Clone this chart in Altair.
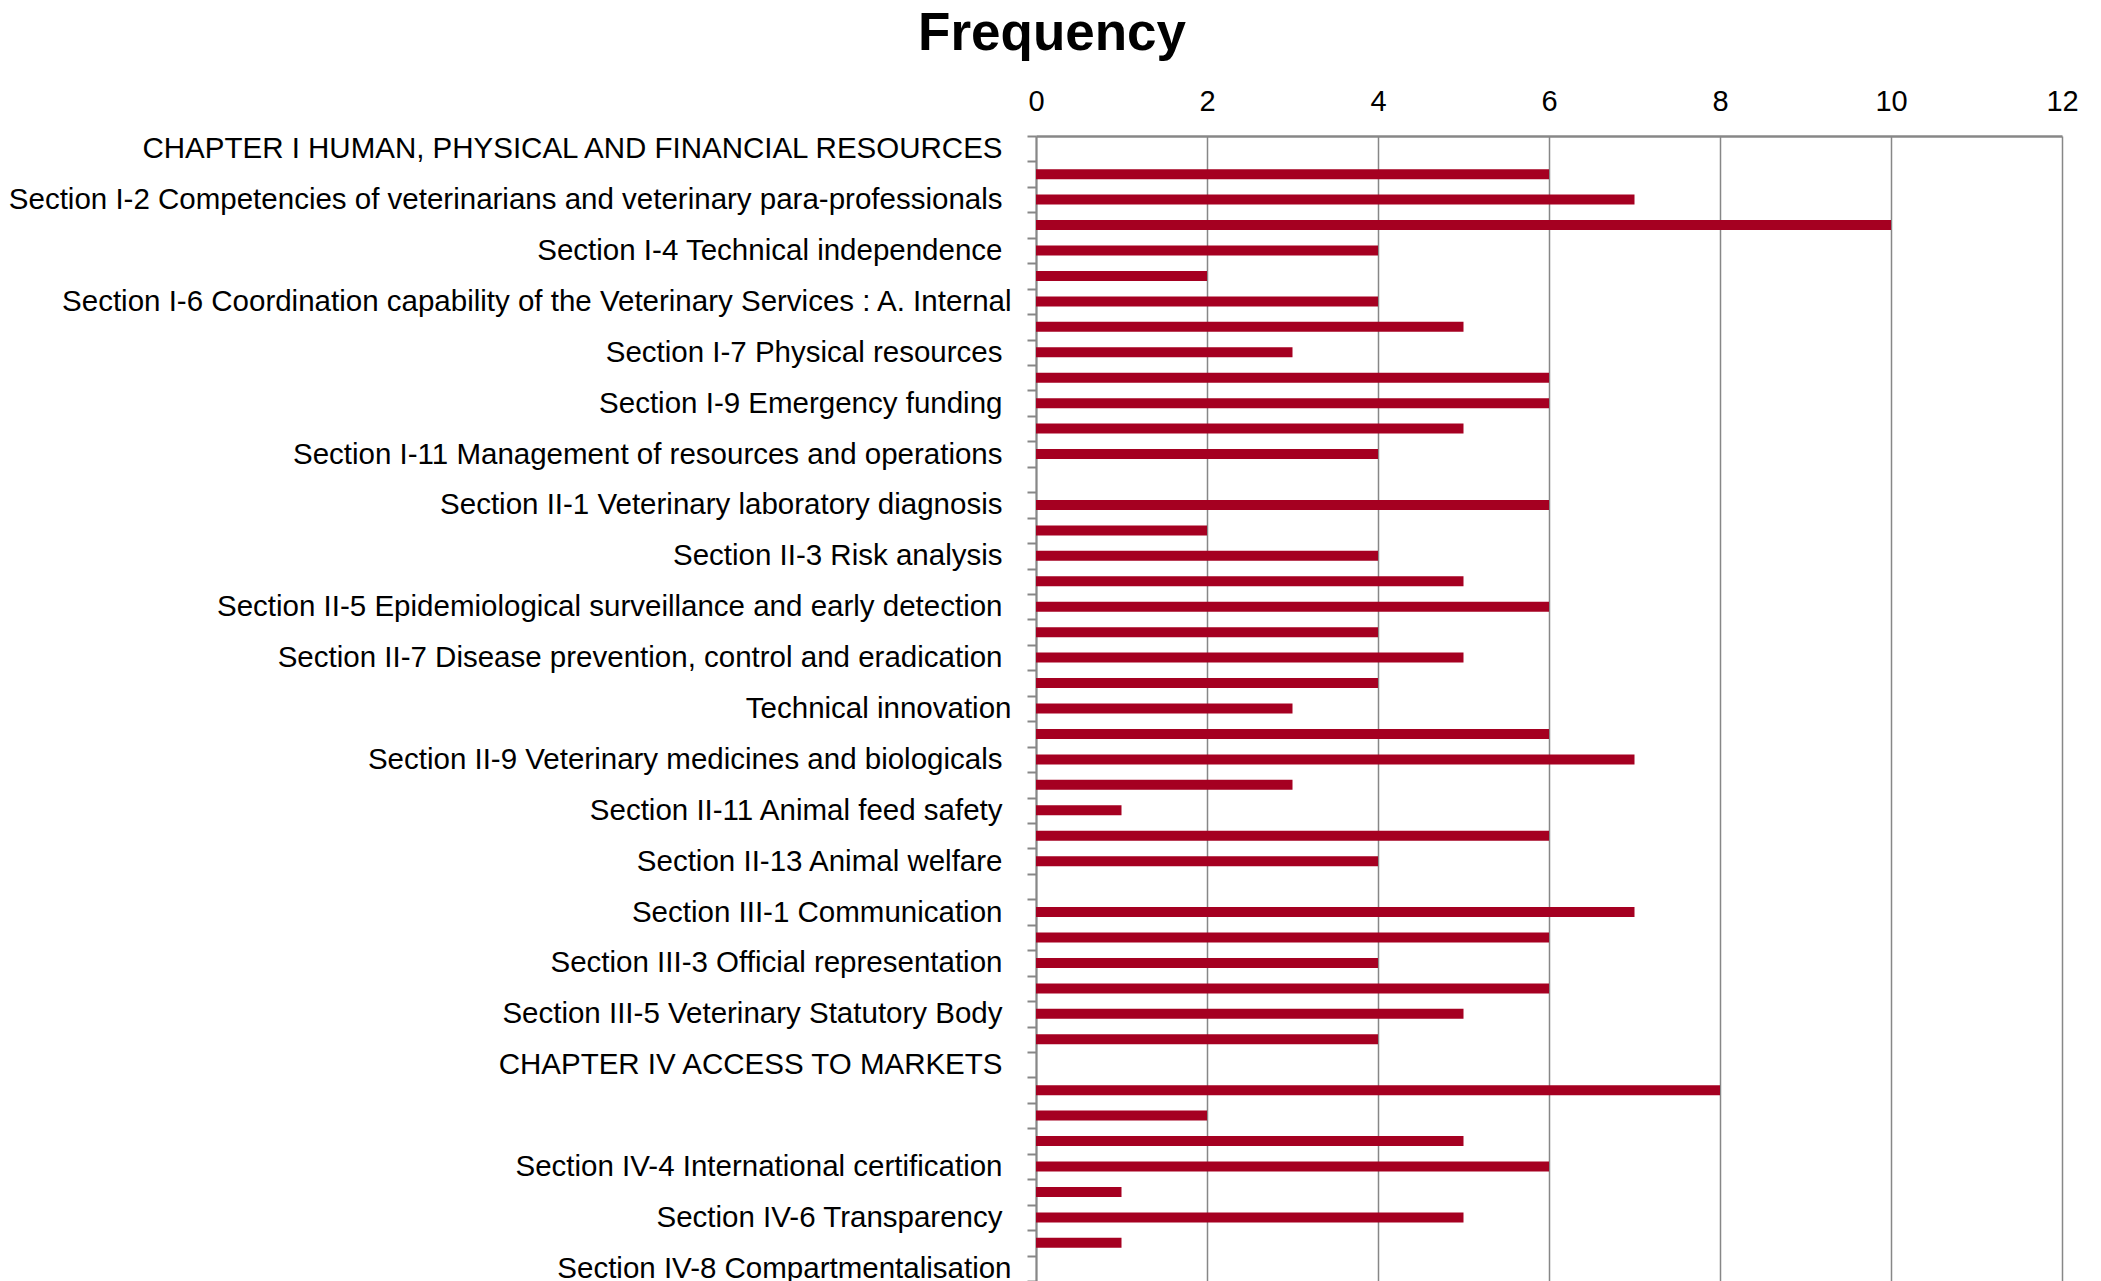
import json
import altair as alt
import pandas as pd

# Category labels (every other category carries a visible label in the source)
labels = [
    "CHAPTER I HUMAN, PHYSICAL AND FINANCIAL RESOURCES", "",
    "Section I-2 Competencies of veterinarians and veterinary para-professionals", "",
    "Section I-4 Technical independence", "",
    "Section I-6 Coordination capability of the Veterinary Services : A. Internal", "",
    "Section I-7 Physical resources", "",
    "Section I-9 Emergency funding", "",
    "Section I-11 Management of resources and operations", "",
    "Section II-1 Veterinary laboratory diagnosis", "",
    "Section II-3 Risk analysis", "",
    "Section II-5 Epidemiological surveillance and early detection", "",
    "Section II-7 Disease prevention, control and eradication", "",
    "Technical innovation", "",
    "Section II-9 Veterinary medicines and biologicals", "",
    "Section II-11 Animal feed safety", "",
    "Section II-13 Animal welfare", "",
    "Section III-1 Communication", "",
    "Section III-3 Official representation", "",
    "Section III-5 Veterinary Statutory Body", "",
    "CHAPTER IV ACCESS TO MARKETS", "",
    "", "",
    "Section IV-4 International certification", "",
    "Section IV-6 Transparency", "",
    "Section IV-8 Compartmentalisation",
]

# Frequency per category (None = no bar)
values = [
    None, 6, 7, 10, 4, 2, 4, 5, 3, 6, 6, 5, 4,
    None, 6, 2, 4, 5, 6, 4, 5, 4, 3, 6, 7, 3, 1, 6, 4,
    None, 7, 6, 4, 6, 5, 4,
    None, 8, 2, 5, 6, 1, 5, 1,
    None,
]

# labels in the source that have no trailing space (they sit a little further right)
no_trailing = {
    "Section I-6 Coordination capability of the Veterinary Services : A. Internal",
    "Technical innovation",
    "Section IV-8 Compartmentalisation",
}

x_ticks = [0, 2, 4, 6, 8, 10, 12]

rows = list(range(len(labels)))
df = pd.DataFrame({"row": rows, "label": labels, "value": values})

label_js = json.dumps(labels, ensure_ascii=False)
flush_rows = [i for i, l in enumerate(labels) if l in no_trailing]

FONT = "Liberation Sans"
GRAY = "#878787"
RED = "#A50021"

chart = alt.Chart(df).mark_bar(size=10, color=RED).encode(
    x=alt.X(
        "value:Q",
        stack=None,
        scale=alt.Scale(domain=[0, 12], nice=False, zero=True),
        axis=alt.Axis(
            orient="top", values=x_ticks, title=None, grid=True,
            gridColor=GRAY, gridWidth=1.5, ticks=False, tickSize=0,
            labelPadding=20, labelFontSize=29, labelFont=FONT, labelColor="#000000",
            domainColor=GRAY, domainWidth=2.5, labelFlush=False,
            minExtent=48, maxExtent=48, format="d",
        ),
    ),
    y=alt.Y(
        "row:O",
        scale=alt.Scale(domain=rows, paddingInner=0, paddingOuter=0),
        axis=alt.Axis(
            title=None, labelExpr=f"{label_js}[datum.value]", tickBand="extent",
            ticks=True, tickSize=9, tickWidth=2, tickColor=GRAY,
            domainColor=GRAY, domainWidth=2,
            labelPadding={
                "condition": {"test": f"indexof({json.dumps(flush_rows)}, datum.value) >= 0", "value": 16},
                "value": 25,
            },
            labelFontSize=29.5, labelFont=FONT, labelColor="#000000",
            minExtent=1028, maxExtent=1028, labelLimit=2000,
            grid=False, labelOverlap=False,
        ),
    ),
).properties(
    width=1026,
    height=1145,
    title=alt.TitleParams(
        "Frequency", fontSize=53, font=FONT, fontWeight="bold",
        anchor="middle", frame="bounds", offset=26, dx=9, color="#000000",
    ),
    padding={"left": 0, "top": 0, "right": 5, "bottom": 0},
).configure_view(stroke=None)

chart.save("out.html", embed_options={"renderer": "svg", "actions": False})
